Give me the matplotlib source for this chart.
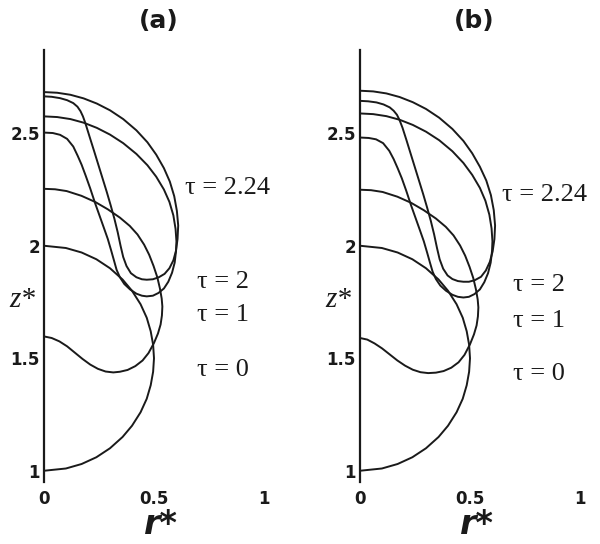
import matplotlib.pyplot as plt

plt.rcParams['font.family'] = ['DejaVu Sans']

# ---- panel (a): drop outlines, (r*, z*) points ----
# tau = 0
drop_a0 = [(0, 1.00), (0.0995, 1.01), (0.171, 1.03), (0.238, 1.06), (0.300, 1.10), (0.357, 1.15),
           (0.400, 1.20), (0.439, 1.26), (0.467, 1.32), (0.485, 1.38), (0.496, 1.44), (0.500, 1.50),
           (0.496, 1.56), (0.485, 1.62), (0.467, 1.68), (0.439, 1.74), (0.400, 1.80), (0.357, 1.85),
           (0.300, 1.90), (0.238, 1.94), (0.171, 1.97), (0.0995, 1.99), (0, 2.00)]
# tau = 1
drop_a1 = [(0, 2.253), (0.05, 2.251), (0.103, 2.243), (0.17, 2.222), (0.232, 2.195), (0.29, 2.162),
           (0.345, 2.125), (0.39, 2.088), (0.425, 2.05), (0.455, 2.005), (0.478, 1.96), (0.498, 1.91),
           (0.515, 1.86), (0.527, 1.81), (0.535, 1.765), (0.538, 1.73), (0.536, 1.69), (0.53, 1.65),
           (0.518, 1.61), (0.5, 1.568), (0.475, 1.523), (0.448, 1.49), (0.415, 1.465), (0.38, 1.448),
           (0.345, 1.44), (0.315, 1.437), (0.28, 1.441), (0.245, 1.453), (0.21, 1.472), (0.175, 1.497),
           (0.14, 1.525), (0.105, 1.553), (0.07, 1.575), (0.035, 1.59), (0, 1.597)]
# tau = 2
drop_a2 = [(0, 2.575), (0.06, 2.572), (0.12, 2.563), (0.18, 2.547), (0.24, 2.524), (0.30, 2.494),
           (0.36, 2.456), (0.42, 2.408), (0.47, 2.358), (0.51, 2.307), (0.545, 2.25), (0.57, 2.195),
           (0.588, 2.135), (0.598, 2.075), (0.602, 2.02), (0.6, 1.975), (0.594, 1.925), (0.582, 1.88),
           (0.565, 1.84), (0.545, 1.81), (0.52, 1.79), (0.495, 1.778), (0.467, 1.775), (0.445, 1.778),
           (0.42, 1.787), (0.391, 1.806), (0.365, 1.83), (0.345, 1.86), (0.33, 1.893), (0.318, 1.935),
           (0.305, 1.98), (0.29, 2.03), (0.272, 2.08), (0.252, 2.135), (0.232, 2.19), (0.21, 2.255),
           (0.19, 2.31), (0.171, 2.36), (0.153, 2.40), (0.133, 2.441), (0.105, 2.475), (0.073, 2.493),
           (0.04, 2.501), (0, 2.503)]
# tau = 2.24
drop_a3 = [(0, 2.683), (0.06, 2.680), (0.12, 2.671), (0.18, 2.655), (0.24, 2.632), (0.30, 2.602),
           (0.36, 2.563), (0.42, 2.513), (0.47, 2.46), (0.51, 2.405), (0.545, 2.345), (0.572, 2.285),
           (0.592, 2.22), (0.604, 2.155), (0.61, 2.09), (0.607, 2.03), (0.6, 1.978), (0.588, 1.935),
           (0.57, 1.9), (0.548, 1.875), (0.522, 1.86), (0.495, 1.851), (0.467, 1.849), (0.445, 1.851),
           (0.42, 1.86), (0.395, 1.878), (0.375, 1.91), (0.36, 1.95), (0.348, 2.0), (0.335, 2.06),
           (0.32, 2.12), (0.303, 2.18), (0.285, 2.24), (0.266, 2.30), (0.247, 2.36), (0.228, 2.42),
           (0.209, 2.479), (0.188, 2.545), (0.177, 2.575), (0.166, 2.598), (0.152, 2.618),
           (0.133, 2.634), (0.105, 2.647), (0.073, 2.656), (0.035, 2.662), (0, 2.664)]

# ---- panel (b) ----
drop_b0 = drop_a0
drop_b1 = [(0, 2.249), (0.05, 2.247), (0.103, 2.239), (0.17, 2.218), (0.232, 2.191), (0.29, 2.158),
           (0.345, 2.121), (0.39, 2.084), (0.425, 2.046), (0.455, 2.001), (0.478, 1.956), (0.498, 1.906),
           (0.515, 1.856), (0.527, 1.806), (0.535, 1.761), (0.538, 1.726), (0.536, 1.686), (0.53, 1.646),
           (0.518, 1.606), (0.5, 1.562), (0.475, 1.515), (0.448, 1.482), (0.415, 1.458), (0.38, 1.443),
           (0.345, 1.436), (0.31, 1.434), (0.275, 1.438), (0.24, 1.449), (0.205, 1.467), (0.17, 1.49),
           (0.135, 1.517), (0.1, 1.544), (0.066, 1.566), (0.033, 1.583), (0, 1.59)]
drop_b2 = [(0, 2.588), (0.06, 2.585), (0.12, 2.576), (0.18, 2.56), (0.24, 2.537), (0.30, 2.507),
           (0.36, 2.469), (0.42, 2.42), (0.47, 2.368), (0.51, 2.315), (0.545, 2.257), (0.57, 2.2),
           (0.588, 2.138), (0.598, 2.077), (0.602, 2.02), (0.6, 1.975), (0.594, 1.925), (0.582, 1.878),
           (0.565, 1.838), (0.545, 1.806), (0.52, 1.785), (0.495, 1.773), (0.47, 1.77), (0.445, 1.773),
           (0.42, 1.782), (0.391, 1.80), (0.365, 1.823), (0.345, 1.852), (0.33, 1.885), (0.318, 1.925),
           (0.305, 1.97), (0.29, 2.02), (0.272, 2.07), (0.252, 2.125), (0.232, 2.18), (0.21, 2.245),
           (0.19, 2.3), (0.171, 2.345), (0.153, 2.385), (0.133, 2.422), (0.105, 2.456), (0.073, 2.473),
           (0.04, 2.479), (0, 2.481)]
drop_b3 = [(0, 2.689), (0.06, 2.686), (0.12, 2.677), (0.18, 2.661), (0.24, 2.638), (0.30, 2.608),
           (0.36, 2.569), (0.42, 2.519), (0.47, 2.466), (0.51, 2.411), (0.545, 2.351), (0.574, 2.29),
           (0.595, 2.225), (0.608, 2.158), (0.614, 2.09), (0.611, 2.03), (0.603, 1.975), (0.59, 1.928),
           (0.572, 1.89), (0.55, 1.862), (0.522, 1.847), (0.495, 1.84), (0.47, 1.84), (0.445, 1.843),
           (0.42, 1.852), (0.398, 1.868), (0.378, 1.898), (0.362, 1.94), (0.35, 1.99), (0.337, 2.05),
           (0.322, 2.11), (0.305, 2.17), (0.287, 2.23), (0.268, 2.29), (0.249, 2.35), (0.23, 2.41),
           (0.211, 2.47), (0.193, 2.525), (0.18, 2.558), (0.168, 2.582), (0.153, 2.6), (0.135, 2.615),
           (0.107, 2.628), (0.075, 2.637), (0.037, 2.642), (0, 2.644)]

# label positions (left edge r, centre z) and texts
tau_labels = ['τ = 2.24', 'τ = 2', 'τ = 1', 'τ = 0']
lab_r_a = [0.641, 0.695, 0.695, 0.695]
lab_z_a = [2.258, 1.841, 1.693, 1.449]
lab_r_b = [0.644, 0.695, 0.695, 0.695]
lab_z_b = [2.227, 1.827, 1.667, 1.431]

panels = [
    ('(a)', 44, [drop_a0, drop_a1, drop_a2, drop_a3], lab_r_a, lab_z_a),
    ('(b)', 360, [drop_b0, drop_b1, drop_b2, drop_b3], lab_r_b, lab_z_b),
]

fig = plt.figure(figsize=(6, 5.44), dpi=100)
W, H = 600, 544
ink = '#1a1a1a'

for title, x0, curves, lr, lz in panels:
    ax = fig.add_axes([x0 / W, (H - 482) / H, 242 / W, 432 / H])
    ax.set_xlim(0, 1.1)
    ax.set_ylim(0.95, 2.87)
    for pts in curves:
        r, z = zip(*pts)
        ax.plot(r, z, color=ink, lw=1.4, solid_joinstyle='round')
    for s in ['top', 'right', 'bottom']:
        ax.spines[s].set_visible(False)
    ax.spines['left'].set_linewidth(1.6)
    ax.spines['left'].set_color(ink)
    ax.set_xticks([0, 0.5, 1])
    ax.set_xticklabels(['0', '0.5', '1'])
    ax.set_yticks([1, 1.5, 2, 2.5])
    ax.set_yticklabels(['1', '1.5', '2', '2.5'])
    ax.tick_params(axis='x', length=0, pad=6, labelsize=12, colors=ink)
    ax.tick_params(axis='y', length=0, pad=3, labelsize=12, colors=ink)
    for t in ax.get_xticklabels() + ax.get_yticklabels():
        t.set_fontweight('bold')

    for txt, rr, zz in zip(tau_labels, lr, lz):
        ax.text(rr, zz, txt, fontsize=19, family='Liberation Serif',
                ha='left', va='center', color=ink)

    ax.text(0.52, 3.0, title, fontsize=18, fontweight='bold', ha='center', va='center',
            color=ink, clip_on=False)
    ax.text(0.53, 0.76, 'r*', fontsize=24, fontweight='bold', style='italic',
            ha='center', va='center', color=ink, clip_on=False)
    ax.text(-0.1, 1.76, 'z*', fontsize=21, style='italic', family='Liberation Serif',
            ha='center', va='center', color=ink, clip_on=False)

plt.savefig('out.png', dpi=100, facecolor='white')
